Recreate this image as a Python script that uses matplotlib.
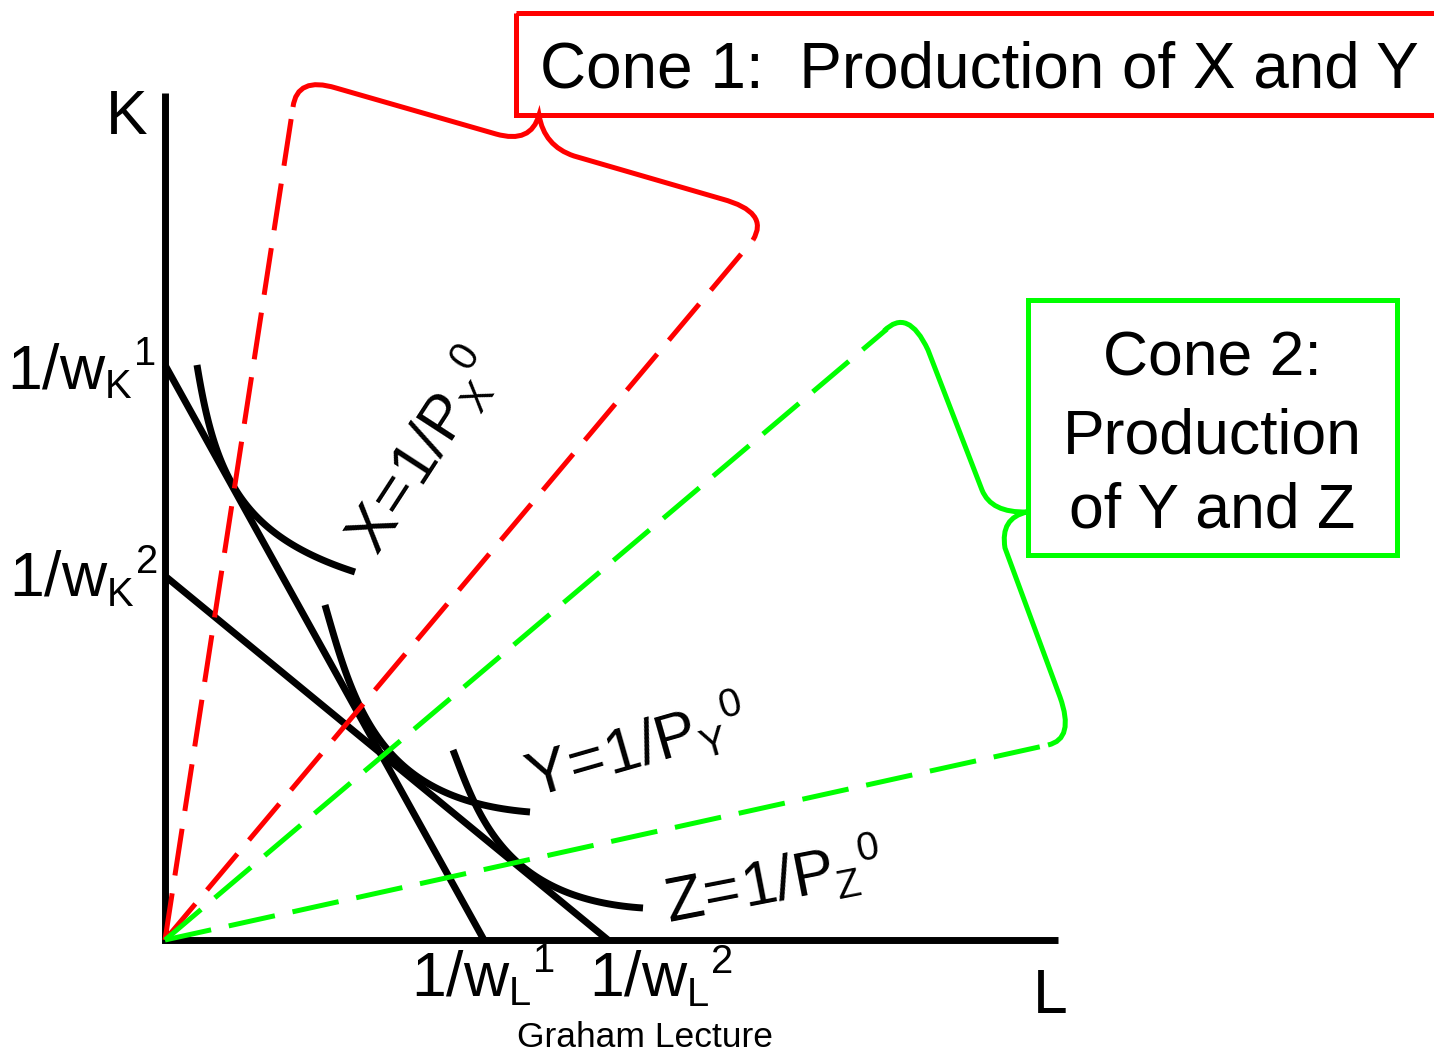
import matplotlib
matplotlib.use("Agg")
import matplotlib.pyplot as plt
from matplotlib.path import Path
from matplotlib.patches import PathPatch, Rectangle
import numpy as np

try:
    import matplotlib._mathtext as _mt
    _mt.SHRINK_FACTOR = 0.64
except Exception:
    pass

plt.rcParams['font.family'] = ['Liberation Sans', 'DejaVu Sans']
plt.rcParams['mathtext.fontset'] = 'custom'
plt.rcParams['mathtext.rm'] = 'Liberation Sans'
plt.rcParams['mathtext.it'] = 'Liberation Sans'
plt.rcParams['mathtext.bf'] = 'Liberation Sans:bold'
plt.rcParams['lines.scale_dashes'] = False

# ---------------- data (diagram units = pixels, y downwards) ----------------
origin = (165, 940)
k_axis_top = 93
l_axis_end = 1058

# budget (iso-cost) lines: K-intercept and L-intercept
budget_k = [365, 576]          # 1/wK^1, 1/wK^2
budget_l = [484, 608]          # 1/wL^1, 1/wL^2

# isoquants as cubic Bezier control points (x list, y list)
iso_x_x = [197, 215, 240, 355]
iso_x_y = [365, 475, 535, 572]
iso_y_x = [325, 355, 380, 530]
iso_y_y = [605, 710, 800, 812]
iso_z_x = [453, 478, 504, 643]
iso_z_y = [750, 815, 899, 908]

# cone rays: end points
red_ray_x = [293, 753]
red_ray_y = [107, 240]
green_ray_x = [887, 1048]
green_ray_y = [329, 745]

# braces: path commands
red_brace = [('M', (293, 107)), ('Q', (297, 76), (336, 88)), ('L', (496, 134)),
             ('Q', (531, 144), (539, 115)), ('Q', (544, 146), (574, 156)),
             ('L', (722, 199)), ('Q', (770, 212), (753, 240))]
green_brace = [('M', (884, 331)), ('Q', (908, 307), (928, 350)), ('L', (982, 490)),
               ('Q', (991, 513), (1027, 512)), ('Q', (1000, 518), (1005, 548)),
               ('L', (1060, 697)), ('Q', (1075, 739), (1048, 745))]

RED = '#FF0000'
GREEN = '#00FF00'

fig = plt.figure(figsize=(14.34, 10.52), dpi=100)
ax = fig.add_axes([0, 0, 1, 1])
ax.set_xlim(0, 1434)
ax.set_ylim(1052, 0)
ax.axis('off')

BLK = 5.0

def bezier(px, py, n=80):
    t = np.linspace(0, 1, n)[:, None]
    P = np.column_stack([px, py]).astype(float)
    B = ((1 - t) ** 3) * P[0] + 3 * ((1 - t) ** 2) * t * P[1] + 3 * (1 - t) * t ** 2 * P[2] + t ** 3 * P[3]
    return B[:, 0], B[:, 1]

def brace_path(cmds):
    verts, codes = [], []
    for c in cmds:
        if c[0] == 'M':
            verts.append(c[1]); codes.append(Path.MOVETO)
        elif c[0] == 'L':
            verts.append(c[1]); codes.append(Path.LINETO)
        elif c[0] == 'Q':
            verts += [c[1], c[2]]; codes += [Path.CURVE3, Path.CURVE3]
    return Path(verts, codes)

# axes
ax.plot([origin[0], origin[0], l_axis_end], [k_axis_top, origin[1], origin[1]],
        color='black', lw=BLK, solid_joinstyle='miter', solid_capstyle='butt', zorder=3)

# budget lines
for k, l in zip(budget_k, budget_l):
    ax.plot([origin[0], l], [k, origin[1]], color='black', lw=BLK, solid_capstyle='butt', zorder=3)

# isoquants
for bx, by in [(iso_x_x, iso_x_y), (iso_y_x, iso_y_y), (iso_z_x, iso_z_y)]:
    cx, cy = bezier(bx, by)
    ax.plot(cx, cy, color='black', lw=BLK, solid_capstyle='butt', zorder=3)

# dashed rays
for ex, ey in zip(red_ray_x, red_ray_y):
    ax.plot([origin[0], ex], [origin[1], ey], color=RED, lw=3.6,
            linestyle=(0, (34, 13)), dash_capstyle='butt', zorder=4)
for ex, ey in zip(green_ray_x, green_ray_y):
    ax.plot([origin[0], ex], [origin[1], ey], color=GREEN, lw=3.6,
            linestyle=(0, (34, 13)), dash_capstyle='butt', zorder=4)

# braces
ax.add_patch(PathPatch(brace_path(red_brace), fill=False, edgecolor=RED, lw=3.6, zorder=4))
ax.add_patch(PathPatch(brace_path(green_brace), fill=False, edgecolor=GREEN, lw=3.6, zorder=4))

# boxes
ax.add_patch(Rectangle((516, 12.5), 960, 102, fill=False, edgecolor=RED, lw=3.6, zorder=5))
ax.add_patch(Rectangle((1028, 300), 369, 255, fill=False, edgecolor=GREEN, lw=3.6, zorder=5))

FS = 45
ax.text(540, 88, 'Cone 1:  Production of X and Y', fontsize=46, ha='left', va='baseline', zorder=6)
ax.text(1212, 376, 'Cone 2:', fontsize=45, ha='center', va='baseline', zorder=6)
ax.text(1212, 453, 'Production', fontsize=45, ha='center', va='baseline', zorder=6)
ax.text(1212, 528, 'of Y and Z', fontsize=45, ha='center', va='baseline', zorder=6)

# axis labels
ax.text(127, 134, 'K', fontsize=FS, ha='center', va='baseline')
ax.text(1050, 1013, 'L', fontsize=FS, ha='center', va='baseline')

ax.text(155, 390, r'$1/w_{K}{}^{1}$', fontsize=FS, ha='right', va='baseline')
ax.text(157, 597, r'$1/w_{K}{}^{2}$', fontsize=FS, ha='right', va='baseline')
ax.text(411, 997, r'$1/w_{L}{}^{1}$', fontsize=FS, ha='left', va='baseline')
ax.text(589, 997, r'$1/w_{L}{}^{2}$', fontsize=FS, ha='left', va='baseline')

ax.text(378, 558, r'$X\!=\!1/P_{X}{}^{0}$', fontsize=FS, rotation=57, rotation_mode='anchor',
        ha='left', va='baseline')
ax.text(533, 799, r'$Y\!=\!1/P_{Y}{}^{0}$', fontsize=FS, rotation=16, rotation_mode='anchor',
        ha='left', va='baseline')
ax.text(669, 923, r'$Z\!=\!1/P_{Z}{}^{0}$', fontsize=FS, rotation=11, rotation_mode='anchor',
        ha='left', va='baseline')

ax.text(645, 1047, 'Graham Lecture', fontsize=25.5, ha='center', va='baseline')

fig.savefig('out.png', dpi=100, facecolor='white')
